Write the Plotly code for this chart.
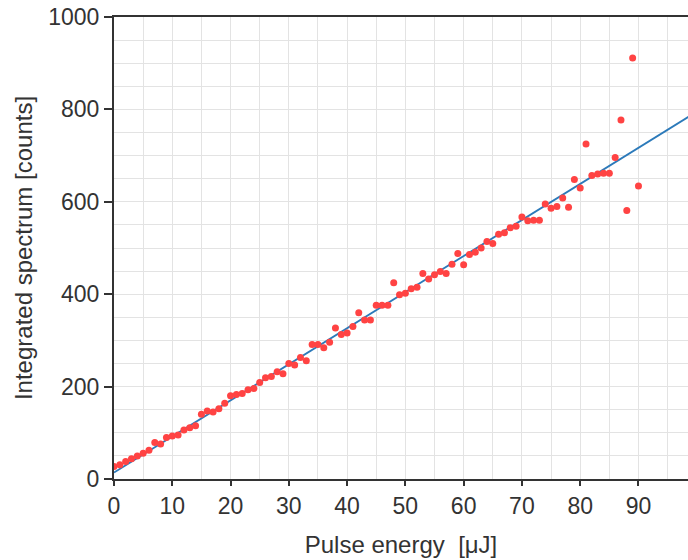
import plotly.graph_objects as go

pulse_energy = [0, 1, 2, 3, 4, 5, 6, 7, 8, 9,
                10, 11, 12, 13, 14, 15, 16, 17, 18, 19,
                20, 21, 22, 23, 24, 25, 26, 27, 28, 29,
                30, 31, 32, 33, 34, 35, 36, 37, 38, 39,
                40, 41, 42, 43, 44, 45, 46, 47, 48, 49,
                50, 51, 52, 53, 54, 55, 56, 57, 58, 59,
                60, 61, 62, 63, 64, 65, 66, 67, 68, 69,
                70, 71, 72, 73, 74, 75, 76, 77, 78, 79,
                80, 81, 82, 83, 84, 85, 86, 87, 88, 89, 90]
counts = [27, 31, 38, 44, 50, 56, 62, 79, 76, 90,
          93, 95, 106, 111, 115, 140, 147, 145, 152, 164,
          180, 183, 185, 193, 196, 209, 219, 222, 232, 228,
          250, 247, 263, 256, 291, 291, 284, 296, 327, 313,
          316, 330, 360, 344, 344, 376, 376, 376, 425, 399,
          402, 412, 415, 445, 433, 442, 449, 445, 465, 488,
          464, 486, 491, 500, 514, 510, 530, 533, 544, 547,
          567, 559, 560, 560, 595, 586, 590, 608, 588, 648,
          630, 725, 657, 660, 662, 662, 696, 777, 581, 911, 634]

fit_x = [0, 100]
fit_y = [14, 795]

x_ticks = [0, 10, 20, 30, 40, 50, 60, 70, 80, 90]
y_major = [0, 200, 400, 600, 800, 1000]
y_minor = [100, 300, 500, 700, 900]

FONT = "Liberation Sans, Arial, sans-serif"
TXT = "#333333"
GRID = "#e3e3e3"
AX = "#333333"

fig = go.Figure()
fig.add_trace(go.Scatter(x=fit_x, y=fit_y, mode="lines",
                         line=dict(color="#2c7aba", width=1.8),
                         showlegend=False, hoverinfo="skip"))
fig.add_trace(go.Scatter(x=pulse_energy, y=counts, mode="markers",
                         marker=dict(color="#ff4343", size=7),
                         showlegend=False))

fig.update_layout(
    width=688, height=560,
    margin=dict(l=114, r=0, t=17, b=81),
    paper_bgcolor="white", plot_bgcolor="white",
    font=dict(family=FONT, color=TXT, size=23),
    xaxis=dict(
        range=[0, 98.5], tickvals=x_ticks, ticks="outside", ticklen=5,
        tickcolor=AX, tickwidth=1.5,
        showline=True, linecolor=AX, linewidth=2, mirror=True,
        showgrid=True, gridcolor=GRID, gridwidth=1, zeroline=False,
        minor=dict(dtick=5, tick0=0, showgrid=True, gridcolor=GRID, gridwidth=1, ticks=""),
        tickfont=dict(size=23, color=TXT),
        title=dict(text="Pulse energy \u00a0[\u03bcJ]", font=dict(size=24, color=TXT), standoff=19),
    ),
    yaxis=dict(
        range=[0, 1000], tickvals=y_major, ticks="outside", ticklen=8,
        tickcolor=AX, tickwidth=1.5,
        showline=True, linecolor=AX, linewidth=2, mirror=False,
        showgrid=True, gridcolor=GRID, gridwidth=1, zeroline=False,
        minor=dict(dtick=50, tick0=0, showgrid=True, gridcolor=GRID, gridwidth=1, ticks=""),
        tickfont=dict(size=23, color=TXT),
        title=dict(text="Integrated spectrum [counts]", font=dict(size=24, color=TXT), standoff=9),
    ),
    yaxis2=dict(
        overlaying="y", side="left", range=[0, 1000], tickvals=y_minor,
        ticks="outside", ticklen=8, tickcolor="#777777", tickwidth=1.5,
        showticklabels=False, showgrid=False, zeroline=False, showline=False,
    ),
)

fig.write_html("out.html")
